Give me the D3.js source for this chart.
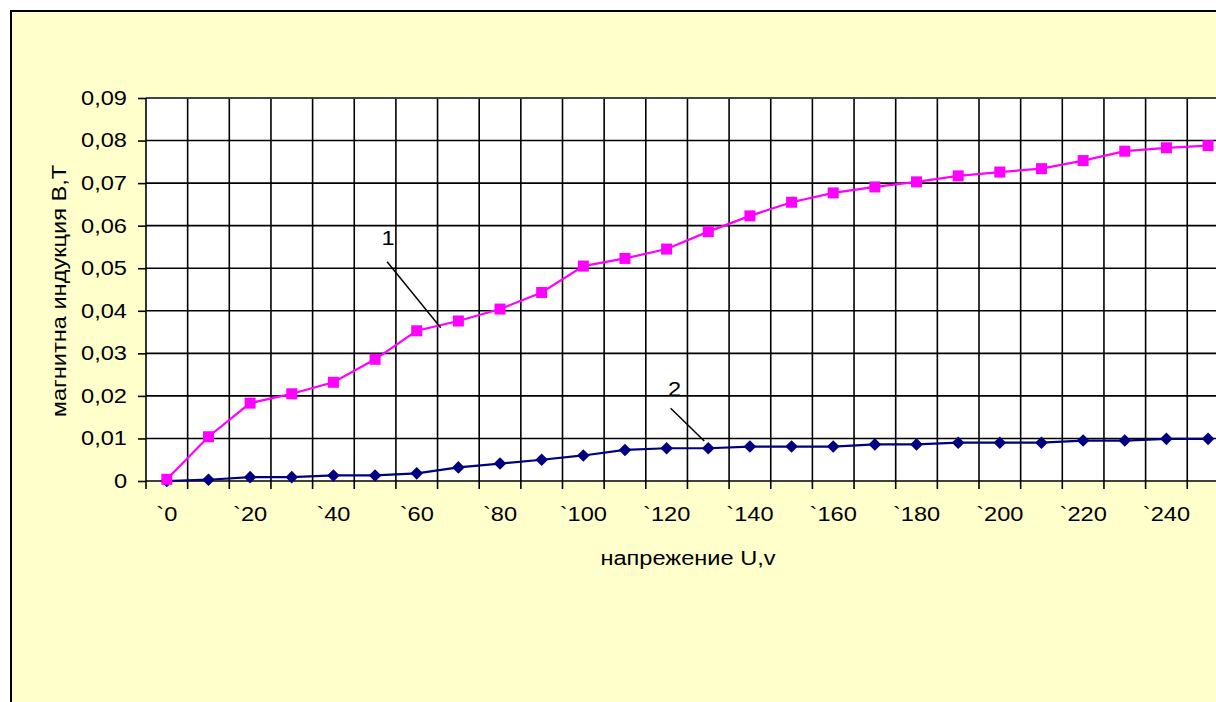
<!DOCTYPE html>
<html>
<head>
<meta charset="utf-8">
<script src="https://cdn.jsdelivr.net/npm/d3@7"></script>
<style>
  html, body { margin: 0; padding: 0; background: #ffffff; }
  svg { display: block; }
  text { font-family: Arial, "Liberation Sans", sans-serif; fill: #000; }
</style>
</head>
<body>
<svg id="chart" width="1216" height="702"></svg>
<script>
// Voltage steps (V)
const voltages = [0, 10, 20, 30, 40, 50, 60, 70, 80, 90, 100, 110, 120, 130, 140, 150,
                  160, 170, 180, 190, 200, 210, 220, 230, 240, 250];
// Magnetic induction, curve 1 (T)
const induction1 = [0.0004, 0.0104, 0.0183, 0.0205, 0.0232, 0.0286, 0.0353, 0.0376, 0.0404, 0.0443,
                    0.0505, 0.0523, 0.0545, 0.0586, 0.0623, 0.0655, 0.0677, 0.0691, 0.0703, 0.0717,
                    0.0726, 0.0734, 0.0753, 0.0775, 0.0783, 0.0788];
// Magnetic induction, curve 2 (T)
const induction2 = [0.0000, 0.0003, 0.0009, 0.0009, 0.0013, 0.0013, 0.0018, 0.0032, 0.0041, 0.0050,
                    0.0060, 0.0073, 0.0077, 0.0077, 0.0081, 0.0081, 0.0081, 0.0086, 0.0086, 0.0090,
                    0.0090, 0.0090, 0.0095, 0.0095, 0.0099, 0.0099];
// Axis tick values and their labels
const yTicks = [0, 0.01, 0.02, 0.03, 0.04, 0.05, 0.06, 0.07, 0.08, 0.09];
const yTickLabels = ["0", "0,01", "0,02", "0,03", "0,04", "0,05", "0,06", "0,07", "0,08", "0,09"];
const xTickLabels = voltages.map((v, i) => i % 2 === 0 ? "`" + v : "");
const xTitle = "напрежение U,v";
const yTitle = "магнитна индукция В,Т";
const curveLabels = ["1", "2"];

const svg = d3.select("#chart");
const FONT = 20;
const WIDEN = 1.18;   // chart text is set in a wide face

// Stretch glyphs along the reading direction
function widen(sel) {
  sel.each(function () {
    const len = this.getComputedTextLength();
    if (len > 0) {
      d3.select(this).attr("textLength", len * WIDEN).attr("lengthAdjust", "spacingAndGlyphs");
    }
  });
}

// Chart area (extends past the right and bottom edges of the view)
svg.append("rect")
  .attr("x", 11).attr("y", 11).attr("width", 1240).attr("height", 720)
  .attr("fill", "#ffffcc").attr("stroke", "#000").attr("stroke-width", 2);

const plot = { left: 146, top: 98, bottom: 481 };
const bandW = 41.65;
const x = d3.scaleBand().domain(voltages)
  .range([plot.left, plot.left + bandW * voltages.length]).padding(0);
const y = d3.scaleLinear().domain([0, 0.09]).range([plot.bottom, plot.top]);
const right = x.range()[1];
const cx = v => x(v) + x.bandwidth() / 2;

// Plot area
svg.append("rect")
  .attr("x", plot.left).attr("y", plot.top)
  .attr("width", right - plot.left).attr("height", plot.bottom - plot.top)
  .attr("fill", "#ffffff");

// Grid
const grid = svg.append("g").attr("stroke", "#000").attr("stroke-width", 1.6);
grid.selectAll("line.h").data(yTicks.slice(1)).join("line")
  .attr("x1", plot.left).attr("x2", right)
  .attr("y1", d => y(d)).attr("y2", d => y(d));
grid.selectAll("line.v").data(voltages.slice(1)).join("line")
  .attr("x1", d => x(d)).attr("x2", d => x(d))
  .attr("y1", plot.top).attr("y2", plot.bottom);
svg.append("line")
  .attr("x1", plot.left).attr("x2", right)
  .attr("y1", plot.top).attr("y2", plot.top)
  .attr("stroke", "#444").attr("stroke-width", 1.6);

// Y axis
const yAxis = d3.axisLeft(y).tickValues(yTicks)
  .tickFormat((d, i) => yTickLabels[i]).tickSize(8).tickPadding(11);
const gy = svg.append("g").attr("transform", `translate(${plot.left},0)`).call(yAxis);
gy.select(".domain").attr("stroke", "#000").attr("stroke-width", 1.6).attr("d", `M0,${plot.top}V${plot.bottom}`);
gy.selectAll(".tick line").attr("stroke", "#000").attr("stroke-width", 1.6);
gy.selectAll(".tick text").attr("font-size", FONT).attr("font-family", "Arial, 'Liberation Sans', sans-serif").call(widen);

// X axis: labels at category centres, tick marks at category boundaries
const xAxis = d3.axisBottom(x).tickFormat((d, i) => xTickLabels[i]).tickSize(0).tickPadding(26);
const gx = svg.append("g").attr("transform", `translate(0,${plot.bottom})`).call(xAxis);
gx.select(".domain").remove();
gx.selectAll(".tick text").attr("font-size", FONT).attr("font-family", "Arial, 'Liberation Sans', sans-serif").call(widen);
svg.append("line")
  .attr("x1", plot.left).attr("x2", right)
  .attr("y1", plot.bottom).attr("y2", plot.bottom)
  .attr("stroke", "#000").attr("stroke-width", 1.6);
svg.append("g").attr("stroke", "#000").attr("stroke-width", 1.6)
  .selectAll("line").data(voltages).join("line")
  .attr("x1", d => x(d)).attr("x2", d => x(d))
  .attr("y1", plot.bottom).attr("y2", plot.bottom + 8);

// Axis titles
svg.append("text").attr("x", 688).attr("y", 565)
  .attr("text-anchor", "middle").attr("font-size", FONT).text(xTitle).call(widen);
svg.append("text")
  .attr("transform", `translate(66,291) rotate(-90)`)
  .attr("text-anchor", "middle").attr("font-size", FONT).text(yTitle).call(widen);

// Curves
const line = d3.line().x((d, i) => cx(voltages[i])).y(d => y(d));

svg.append("path").datum(induction2)
  .attr("d", line).attr("fill", "none").attr("stroke", "#000080").attr("stroke-width", 2.2);
svg.append("g").selectAll("path").data(induction2).join("path")
  .attr("transform", (d, i) => `translate(${cx(voltages[i])},${y(d)})`)
  .attr("d", "M0,-6.3L6.3,0L0,6.3L-6.3,0Z").attr("fill", "#000080");

svg.append("path").datum(induction1)
  .attr("d", line).attr("fill", "none").attr("stroke", "#ff00ff").attr("stroke-width", 2.2);
svg.append("g").selectAll("rect").data(induction1).join("rect")
  .attr("x", (d, i) => cx(voltages[i]) - 5.5).attr("y", d => y(d) - 5.5)
  .attr("width", 11).attr("height", 11).attr("fill", "#ff00ff");

// Curve callouts
const callouts = [
  { label: curveLabels[0], tx: cx(voltages[5]) + 13, ty: y(0.0555), from: [cx(voltages[5]) + 12, y(0.0515)], to: [cx(voltages[6]) + 24, y(0.0360)] },
  { label: curveLabels[1], tx: cx(voltages[12]) + 8, ty: y(0.0199), from: [cx(voltages[12]) + 4, y(0.0171)], to: [cx(voltages[13]) - 4, y(0.0094)] }
];
callouts.forEach(c => {
  svg.append("text").attr("x", c.tx).attr("y", c.ty)
    .attr("text-anchor", "middle").attr("font-size", FONT).text(c.label).call(widen);
  svg.append("line")
    .attr("x1", c.from[0]).attr("y1", c.from[1]).attr("x2", c.to[0]).attr("y2", c.to[1])
    .attr("stroke", "#000").attr("stroke-width", 1.5);
});
</script>
</body>
</html>
